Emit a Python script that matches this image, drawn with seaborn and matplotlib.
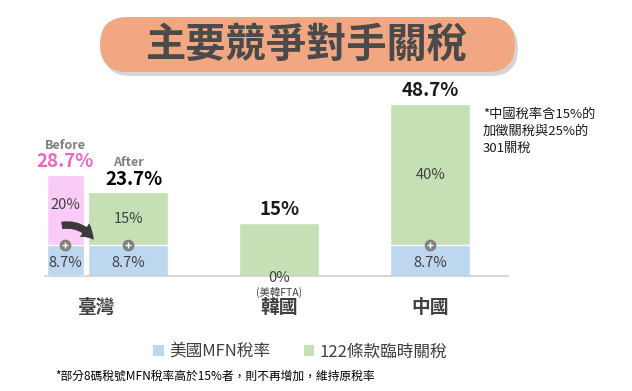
import matplotlib
matplotlib.use("Agg")
import matplotlib.pyplot as plt
import seaborn as sns
import pandas as pd
from matplotlib.patches import FancyBboxPatch, Patch

# data
countries = ['臺灣', '韓國', '中國']
mfn = [8.7, 0, 8.7]          # 美國MFN稅率
extra = [15, 15, 40]         # 122條款臨時關稅
totals = [23.7, 15, 48.7]
before_mfn = 8.7
before_extra = 20
before_total = 28.7
legend_labels = ['美國MFN稅率', '122條款臨時關稅']

BLUE = '#BDD7EE'
GREEN = '#C5E0B4'
PINK = '#FBCBF7'
DARK = '#404040'

sns.set_theme(style='white')
plt.rcParams['font.family'] = ['Noto Sans CJK TC', 'DejaVu Sans']

fig = plt.figure(figsize=(6.32, 3.91), dpi=100)
ax = fig.add_axes([0.0707, 0.2941, 0.733, 0.542])

df = pd.DataFrame({'country': countries, 'mfn': mfn, 'total': totals})
sns.barplot(data=df, x='country', y='total', order=countries, color=GREEN,
            width=0.53, saturation=1, ax=ax)
sns.barplot(data=df, x='country', y='mfn', order=countries, color=BLUE,
            width=0.53, saturation=1, ax=ax)

# Taiwan "before" bar, narrower and to the left of the after bar
bpos = -0.42
ax.bar(bpos, before_total, width=0.245, color=PINK, zorder=2)
ax.bar(bpos, before_mfn, width=0.245, color=BLUE, zorder=3)

ax.set_xlim(-0.555, 2.513)
ax.set_ylim(0, 60)
ax.set_ylabel('')
ax.set_xlabel('')
ax.set_yticks([])
for s in ['left', 'right', 'top']:
    ax.spines[s].set_visible(False)
ax.spines['bottom'].set_color('#D0D0D0')
ax.set_xticks([(bpos + 0) / 2, 1, 2])
ax.set_xticklabels(countries, fontsize=13.5, color=DARK, fontweight='bold')
ax.tick_params(axis='x', length=0, pad=16)

# segment labels
seg_kw = dict(ha='center', va='center', fontsize=10.5, color=DARK)
ax.text(bpos, before_mfn * 0.42, f'{before_mfn}%', **seg_kw)
ax.text(bpos, before_mfn + before_extra / 2 + 1.5, f'{before_extra}%', **seg_kw)
for i in [0, 2]:
    ax.text(i, mfn[i] * 0.42, f'{mfn[i]}%', **seg_kw)
    ax.text(i, mfn[i] + extra[i] / 2, f'{extra[i]}%', **seg_kw)
ax.text(1, -0.6, f'{mfn[1]}%', **seg_kw)
ax.text(1, -4.6, '(美韓FTA)', ha='center', va='center', fontsize=7.5, color=DARK)

# gray "+" markers at the segment boundary
for x in [bpos, 0, 2]:
    ax.scatter(x, before_mfn, s=55, color='#808080', zorder=5, clip_on=False)
    ax.scatter(x, before_mfn, s=18, marker='+', color='white', linewidths=1, zorder=6)

# totals
ax.text(bpos, before_total + 1.0, f'{before_total}%', ha='center', va='bottom',
        fontsize=13.5, fontweight='bold', color='#EE66C4')
ax.text(bpos, before_total + 6.5, 'Before', ha='center', va='bottom',
        fontsize=9, fontweight='bold', color='#7F7F7F')
ax.text(0.04, totals[0] + 1.0, f'{totals[0]}%', ha='center', va='bottom',
        fontsize=13.5, fontweight='bold', color='black')
ax.text(0.0, totals[0] + 6.5, 'After', ha='center', va='bottom',
        fontsize=9, fontweight='bold', color='#7F7F7F')
for i in [1, 2]:
    ax.text(i, totals[i] + 1.0, f'{totals[i]}%', ha='center', va='bottom',
            fontsize=13.5, fontweight='bold', color='#1A1A1A')

# curved arrow from before to after
ax.annotate('', xy=(-0.22, 9.6), xytext=(-0.46, 14.2),
            arrowprops=dict(arrowstyle='simple,head_length=0.8,head_width=1.0,tail_width=0.45',
                            connectionstyle='arc3,rad=-0.35', color='#3A3A3A', lw=0),
            zorder=7)

# note next to China bar
fig.text(0.764, 0.724, '*中國稅率含15%的\n加徵關稅與25%的\n301關稅', ha='left', va='top',
         fontsize=9.5, color='#1A1A1A', linespacing=1.4)

# title pill (in inches so the ends stay round)
tr = fig.dpi_scale_trans
shadow = FancyBboxPatch((1.03, 3.15), 4.15, 0.55, boxstyle='round,pad=0,rounding_size=0.275',
                        transform=tr, facecolor='#D5D5D5', edgecolor='none')
pill = FancyBboxPatch((1.0, 3.19), 4.15, 0.55, boxstyle='round,pad=0,rounding_size=0.275',
                      transform=tr, facecolor='#F2A783', edgecolor='none')
fig.patches.extend([shadow, pill])
fig.text(0.486, 0.883, '主要競爭對手關稅', ha='center', va='center', fontsize=29,
         fontweight='bold', color='#4A4A4A')

# legend
handles = [Patch(facecolor=BLUE, edgecolor='none'), Patch(facecolor=GREEN, edgecolor='none')]
fig.legend(handles, legend_labels, loc='center', bbox_to_anchor=(0.475, 0.1), ncol=2,
           frameon=False, fontsize=12, handlelength=0.65, handleheight=0.65,
           handletextpad=0.3, columnspacing=2.0, labelcolor=DARK)

fig.text(0.087, 0.038, '*部分8碼稅號MFN稅率高於15%者，則不再增加，維持原稅率', ha='left',
         va='center', fontsize=8.5, color='black')

fig.savefig('out.png', dpi=100)
